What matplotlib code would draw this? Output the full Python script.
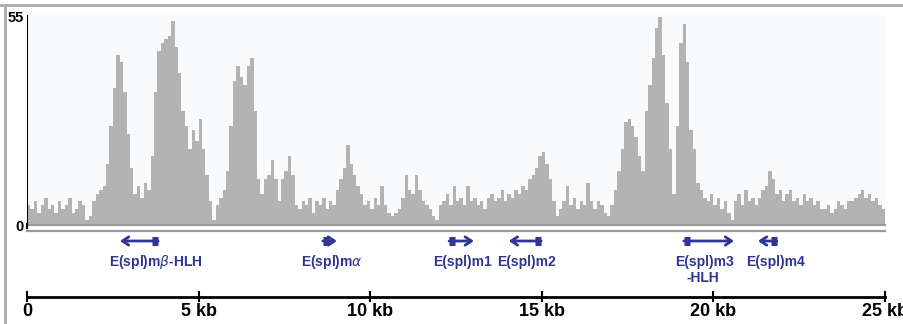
import numpy as np
import matplotlib
matplotlib.use('Agg')
import matplotlib.pyplot as plt
from matplotlib.lines import Line2D

# read coverage, 0.1 kb bins over 25 kb
coverage = [5, 4, 6, 3, 5, 7, 4, 5, 3, 6, 4, 5, 7, 3, 4, 6, 5,
            1, 2,
            6, 8, 9, 10,
            16, 26, 36, 45, 43, 35, 24, 15,
            8, 10, 7, 11, 9,
            18, 35, 46, 48, 49, 50, 54, 47, 40, 30, 26,
            20, 25, 22, 28, 20, 13, 6, 1,
            5, 7, 9, 14,
            26, 38, 42, 39, 37, 42, 44, 30, 12,
            8, 12, 13, 17, 12, 6, 12, 14, 18, 13, 5,
            4, 6, 5, 7, 3, 6, 5, 7, 4, 6, 5,
            9, 12, 15, 21, 16, 13, 10, 8,
            5, 6, 4, 7, 5, 10, 5,
            3, 2, 3, 4,
            7, 13, 9, 8, 13, 9, 6, 5, 4,
            2, 1,
            5, 6, 8, 5, 10, 6, 7, 5, 10, 6, 7, 5,
            6, 4, 7, 8, 6, 7, 9, 6, 8, 7, 9, 8, 10, 9, 12,
            13, 15, 18, 19, 16,
            12, 6, 2,
            4, 6, 10, 5, 7, 4, 6, 5, 11, 6, 4, 6, 5, 3,
            2,
            5, 9, 14, 20, 27, 28, 26, 23, 18, 14,
            30, 37, 44, 52, 55, 45, 32, 20, 8,
            26, 48, 53, 43, 25, 20, 11,
            9, 7, 6, 8, 5, 7, 4, 6, 3,
            1,
            6, 8, 5, 9, 6, 7, 5,
            7, 9, 10, 14, 12, 8, 9,
            6, 8, 9, 6, 7, 5, 8, 6, 7, 5, 6, 4,
            4, 5, 3, 4, 6, 5, 4, 6,
            6, 7, 8, 9, 7, 8, 6, 7, 5, 4]
bin_kb = 0.1

genes = ['E(spl)m$\\beta$-HLH', 'E(spl)m$\\alpha$', 'E(spl)m1', 'E(spl)m2',
         'E(spl)m3\n-HLH', 'E(spl)m4']
gene_tss = [3.82, 8.62, 12.30, 14.98, 19.14, 21.85]
gene_end = [2.71, 9.03, 13.02, 14.04, 20.60, 21.30]
# where the name labels sit (kb), not always centred under the gene
label_kb = [3.76, 8.89, 12.68, 14.54, 19.75, 21.80]

scale_ticks = [0, 5, 10, 15, 20, 25]
scale_labels = ['0', '5 kb', '10 kb', '15 kb', '20 kb', '25 kb']

W, H = 904, 324
navy = '#2e3592'
plt.rcParams['font.family'] = ['Liberation Sans', 'DejaVu Sans']

fig = plt.figure(figsize=(W/100, H/100), dpi=100)
fig.patch.set_facecolor('white')

# coverage track
x0, x1 = 27, 885
ax = fig.add_axes([x0/W, 1-224/H, (x1-x0)/W, (224-15)/H])
ax.set_facecolor('#f8fafc')
xs = np.arange(len(coverage)+1)*bin_kb
ys = coverage + [coverage[-1]]
ax.fill_between(xs, ys, step='post', color='#b3b3b3', lw=0)
ax.set_xlim(0, 25)
ax.set_ylim(0, 55.5)
for s in ax.spines.values():
    s.set_visible(False)
ax.set_xticks([])
ax.set_yticks([])
ax.axvline(0, color='black', lw=1.5)

# lower panel: genes and scale bar, y in pixel units
ax2 = fig.add_axes([x0/W, 0, (x1-x0)/W, (H-224)/H])
ax2.set_xlim(0, 25)
ax2.set_ylim(H, 224)
ax2.axis('off')
ax2.plot([0, 25], [225, 225], color='#9a9a9a', lw=1.6, clip_on=False)
ax2.plot([0, 25], [230.5, 230.5], color='#9a9a9a', lw=1.6, clip_on=False)
ax2.plot([0, 0], [224, 228], color='black', lw=1.5, clip_on=False)

for name, tss, end, lx in zip(genes, gene_tss, gene_end, label_kb):
    ax2.annotate('', xy=(end, 241), xytext=(tss, 241),
                 arrowprops=dict(arrowstyle='->,head_length=0.45,head_width=0.3',
                                 color=navy, lw=2, shrinkA=0, shrinkB=0))
    d = 0.17 if end > tss else -0.17
    ax2.plot([tss, tss+d], [241, 241], color=navy, lw=6.5, solid_capstyle='butt')
    lines = name.split('\n')
    ax2.text(lx, 262, lines[0], color=navy, fontsize=10,
             fontweight='bold', ha='center', va='center')
    if len(lines) > 1:
        ax2.text(lx - 0.05, 278, lines[1], color=navy, fontsize=10,
                 fontweight='bold', ha='center', va='center')

ax2.plot([0, 25], [296.5, 296.5], color='black', lw=2, clip_on=False)
for t, lab in zip(scale_ticks, scale_labels):
    ax2.plot([t, t], [292, 301], color='black', lw=1.5, clip_on=False)
    ax2.text(t, 311, lab, fontsize=13, fontweight='bold', ha='center',
             va='center', clip_on=False)

# y labels
fig.text(24/W, 1-18/H, '55', fontsize=10.5, fontweight='bold', ha='right', va='center')
fig.text(24/W, 1-227/H, '0', fontsize=10.5, fontweight='bold', ha='right', va='center')

# outer frame (top and left edges)
fig.add_artist(Line2D([0, 1], [1-5/H, 1-5/H], color='#aaaaaa', lw=2))
fig.add_artist(Line2D([5/W, 5/W], [0, 1-5/H], color='#aaaaaa', lw=2))

fig.savefig('out.png', dpi=100)
